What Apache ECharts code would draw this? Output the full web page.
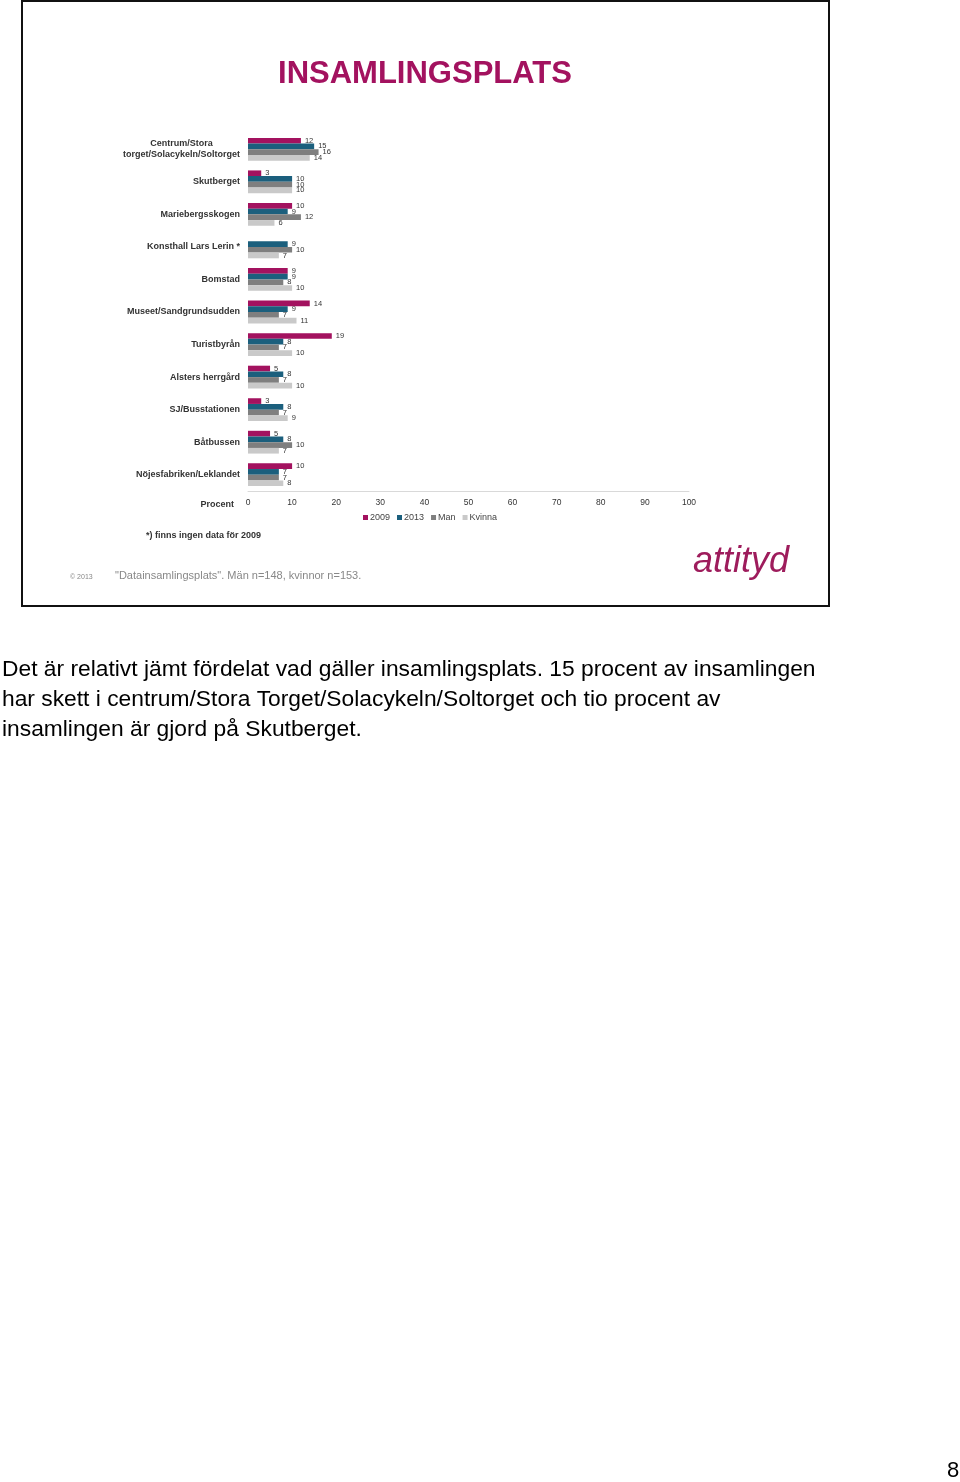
<!DOCTYPE html>
<html><head><meta charset="utf-8">
<script src="https://cdn.jsdelivr.net/npm/echarts@6/dist/echarts.min.js"></script>
<style>html,body{margin:0;padding:0;background:#fff}#c{width:960px;height:1482px}</style>
</head><body><div id="c"></div>
<script>
const categories = ['Centrum/Stora\ntorget/Solacykeln/Soltorget','Skutberget','Mariebergsskogen','Konsthall Lars Lerin *','Bomstad','Museet/Sandgrundsudden','Turistbyrån','Alsters herrgård','SJ/Busstationen','Båtbussen','Nöjesfabriken/Leklandet'];
const v2009 = [12, 3, 10, null, 9, 14, 19, 5, 3, 5, 10];
const v2013 = [15, 10, 9, 9, 9, 9, 8, 8, 8, 8, 7];
const vMan = [16, 10, 12, 10, 8, 7, 7, 7, 7, 10, 7];
const vKvinna = [14, 10, 6, 7, 10, 11, 10, 10, 9, 7, 8];
const xTicks = [0,10,20,30,40,50,60,70,80,90,100];
const seriesNames = ['2009','2013','Man','Kvinna'];
const colors = ['#A3125F','#1B5F7D','#7F7F7F','#C9C9C9'];

const chart = echarts.init(document.getElementById('c'), null, {renderer:'canvas'});
const mk = (name, data, i) => ({
  name, type:'bar', data, barGap:'0%', barCategoryGap:'30%',
  itemStyle:{color:colors[i]},
  label:{show:true, position:'right', distance:4, fontSize:7.5, color:'#333', fontFamily:'Liberation Sans'}
});
chart.setOption({
  animation:false,
  textStyle:{fontFamily:'Liberation Sans'},
  grid:{left:248, right:271, top:133, height:358, containLabel:false},
  legend:{data:seriesNames, top:508, left:358, itemWidth:5, itemHeight:5, itemGap:7,
    icon:'rect', textStyle:{fontSize:9, color:'#444', padding:[0,0,0,-3]}},
  xAxis:{type:'value', min:0, max:100, interval:10,
    name:'Procent', nameLocation:'start', nameGap:14, nameTextStyle:{fontSize:9, fontWeight:'bold', color:'#333', verticalAlign:'top', padding:[9,0,0,0]},
    axisLine:{show:true, lineStyle:{color:'#D9D9D9', width:1}},
    axisTick:{show:false}, splitLine:{show:false},
    axisLabel:{fontSize:8.5, color:'#333', margin:7, formatter:v=>String(v)}},
  yAxis:{type:'category', data:categories, inverse:true,
    axisLine:{show:false}, axisTick:{show:false},
    axisLabel:{margin:8, formatter:v=>v.split('\n').map(s=>'{c|'+s+'}').join('\n'),
      rich:{c:{fontSize:9, fontWeight:'bold', color:'#333', align:'center', lineHeight:11, fontFamily:'Liberation Sans'}}}},
  series:[mk('2009',v2009,0), mk('2013',v2013,1), mk('Man',vMan,2), mk('Kvinna',vKvinna,3)],
  graphic:[
    {type:'rect', shape:{x:22, y:1, width:807, height:605}, style:{fill:'none', stroke:'#111', lineWidth:2}, silent:true},
    {type:'text', x:425, y:74, style:{text:'INSAMLINGSPLATS', fill:'#A3125F', font:'bold 31px "Liberation Sans"', textAlign:'center', textVerticalAlign:'middle'}},
    {type:'text', x:146, y:536, style:{text:'*) finns ingen data för 2009', fill:'#333', font:'bold 9px "Liberation Sans"', textVerticalAlign:'middle'}},
    {type:'text', x:70, y:577, style:{text:'© 2013', fill:'#888', font:'7px "Liberation Sans"', textVerticalAlign:'middle'}},
    {type:'text', x:115, y:576, style:{text:'"Datainsamlingsplats". Män n=148, kvinnor n=153.', fill:'#888', font:'11px "Liberation Sans"', textVerticalAlign:'middle'}},
    {type:'text', x:693, y:562, style:{text:'attityd', fill:'#9E1C5C', font:'italic 36px "Liberation Sans"', textVerticalAlign:'middle'}},
    {type:'text', x:2, y:670, style:{text:'Det är relativt jämt fördelat vad gäller insamlingsplats. 15 procent av insamlingen', fill:'#000', font:'22.8px "Liberation Sans"', textVerticalAlign:'middle'}},
    {type:'text', x:2, y:700, style:{text:'har skett i centrum/Stora Torget/Solacykeln/Soltorget och tio procent av', fill:'#000', font:'22.8px "Liberation Sans"', textVerticalAlign:'middle'}},
    {type:'text', x:2, y:730, style:{text:'insamlingen är gjord på Skutberget.', fill:'#000', font:'22.8px "Liberation Sans"', textVerticalAlign:'middle'}},
    {type:'text', x:953, y:1471, style:{text:'8', fill:'#000', font:'22px "Liberation Sans"', textAlign:'center', textVerticalAlign:'middle'}}
  ]
});
</script></body></html>
